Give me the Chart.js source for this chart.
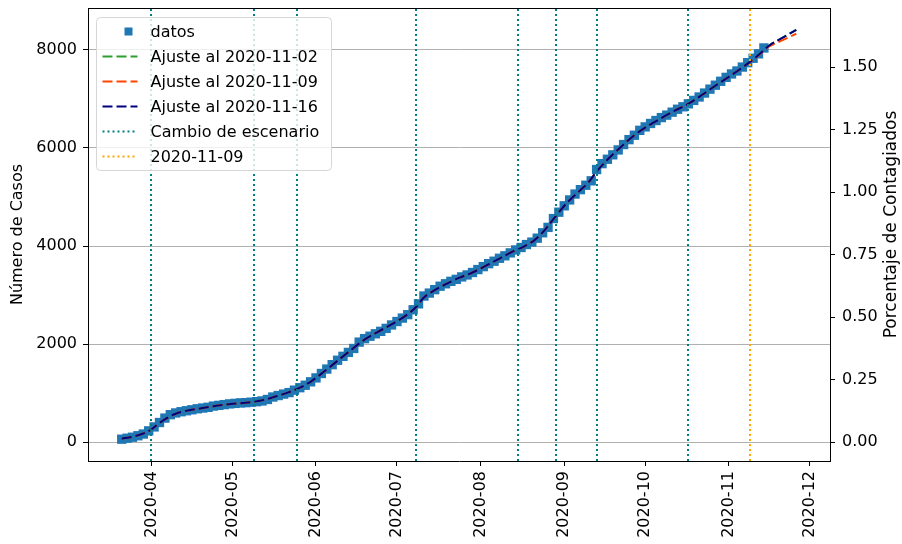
<!DOCTYPE html>
<html>
<head>
<meta charset="utf-8">
<script src="https://cdn.jsdelivr.net/npm/chart.js@4.4.0/dist/chart.umd.min.js"></script>
<style>
  html, body { margin: 0; padding: 0; background: #fff; }
  #wrap { width: 902px; height: 544px; }
</style>
</head>
<body>
<div id="wrap"><canvas id="grafico" width="902" height="544"></canvas></div>
<script>
// datos diarios (uno de cada dos dias), desde inicioDatos
const inicioDatos = '2020-03-21';
const pasoDatos = 2;
const casos = [
  60, 80, 100, 130, 165, 230, 310, 400, 490, 560,
  595, 620, 640, 660, 680, 695, 710, 735, 750, 765,
  780, 790, 800, 805, 815, 825, 840, 870, 920, 950,
  980, 1010, 1060, 1110, 1160, 1230, 1310, 1400, 1490, 1580,
  1670, 1750, 1830, 1910, 2040, 2110, 2160, 2210, 2260, 2320,
  2390, 2460, 2530, 2600, 2700, 2820, 2980, 3040, 3110, 3180,
  3230, 3280, 3320, 3370, 3410, 3460, 3520, 3580, 3640, 3690,
  3750, 3800, 3860, 3920, 3970, 4030, 4080, 4160, 4270, 4380,
  4560, 4690, 4820, 4940, 5060, 5150, 5240, 5330, 5560, 5680,
  5770, 5860, 5960, 6070, 6170, 6260, 6360, 6430, 6500, 6560,
  6620, 6670, 6730, 6790, 6840, 6900, 6970, 7040, 7120, 7200,
  7280, 7360, 7440, 7510, 7570, 7650, 7740, 7830, 7920, 8040
];

// curvas de ajuste
const fechasAjuste = [
  '2020-03-21', '2020-03-25', '2020-03-29', '2020-04-01', '2020-04-04', '2020-04-07', '2020-04-10',
  '2020-04-15', '2020-04-20', '2020-04-25', '2020-04-30', '2020-05-05', '2020-05-09', '2020-05-13',
  '2020-05-17', '2020-05-21', '2020-05-26', '2020-05-30', '2020-06-04', '2020-06-09', '2020-06-14',
  '2020-06-19', '2020-06-24', '2020-06-29', '2020-07-04', '2020-07-08', '2020-07-11', '2020-07-15',
  '2020-07-19', '2020-07-24', '2020-07-29', '2020-08-03', '2020-08-08', '2020-08-13', '2020-08-17',
  '2020-08-21', '2020-08-25', '2020-08-29', '2020-09-02', '2020-09-07', '2020-09-10', '2020-09-13',
  '2020-09-17', '2020-09-22', '2020-09-27', '2020-10-02', '2020-10-07', '2020-10-12', '2020-10-17',
  '2020-10-22', '2020-10-27', '2020-11-01', '2020-11-06', '2020-11-11', '2020-11-16', '2020-11-21',
  '2020-11-26'
];
const ajuste1102 = [
  70, 110, 175, 260, 390, 500, 580, 650, 695, 740, 775, 800, 825, 865, 930, 1000, 1110, 1230, 1440,
  1660, 1880, 2090, 2250, 2400, 2570, 2750, 2950, 3100, 3220, 3350, 3460, 3600, 3745, 3890, 3990,
  4120, 4340, 4620, 4880, 5140, 5300, 5520, 5760, 6020, 6260, 6450, 6610, 6760, 6900, 7080, 7270,
  7450, 7640, 7850, 8090, 8250, 8410
];
const ajuste1109 = [
  70, 110, 175, 260, 390, 500, 580, 650, 695, 740, 775, 800, 825, 865, 930, 1000, 1110, 1230, 1440,
  1660, 1880, 2090, 2250, 2400, 2570, 2750, 2950, 3100, 3220, 3350, 3460, 3600, 3745, 3890, 3990,
  4120, 4340, 4620, 4880, 5140, 5300, 5520, 5760, 6020, 6260, 6450, 6610, 6760, 6900, 7080, 7270,
  7450, 7640, 7840, 8070, 8200, 8330
];
const ajuste1116 = [
  70, 110, 175, 260, 390, 500, 580, 650, 695, 740, 775, 800, 825, 865, 930, 1000, 1110, 1230, 1440,
  1660, 1880, 2090, 2250, 2400, 2570, 2750, 2950, 3100, 3220, 3350, 3460, 3600, 3745, 3890, 3990,
  4120, 4340, 4620, 4880, 5140, 5300, 5520, 5760, 6020, 6260, 6450, 6610, 6760, 6900, 7080, 7270,
  7450, 7640, 7850, 8090, 8250, 8410
];

// lineas verticales
const cambiosEscenario = ['2020-04-01', '2020-05-09', '2020-05-25', '2020-07-08', '2020-08-15',
                          '2020-08-29', '2020-09-13', '2020-10-17'];
const fechaReferencia = '2020-11-09';

// ejes
const ticksMes = ['2020-04-01', '2020-05-01', '2020-06-01', '2020-07-01', '2020-08-01',
                  '2020-09-01', '2020-10-01', '2020-11-01', '2020-12-01'];
const etiquetasMes = ['2020-04', '2020-05', '2020-06', '2020-07', '2020-08',
                      '2020-09', '2020-10', '2020-11', '2020-12'];
const ticksCasos = [0, 2000, 4000, 6000, 8000];
const ticksPorcentaje = [0, 0.25, 0.5, 0.75, 1.0, 1.25, 1.5];
const poblacion = 510000;
const yMin = -385, yMax = 8855;

const azul = '#1f77b4', verde = '#2ca02c', rojo = '#ff4500', marino = '#000080';
const turquesa = '#008080', naranja = '#ffa500';

// dias desde 2020-01-01
const dia = s => (Date.UTC(+s.slice(0, 4), +s.slice(5, 7) - 1, +s.slice(8, 10)) - Date.UTC(2020, 0, 1)) / 864e5;

const d0 = dia(inicioDatos);
const puntosDatos = casos.map((v, i) => ({x: d0 + pasoDatos * i, y: v}));
const diasAjuste = fechasAjuste.map(dia);
const serie = arr => arr.map((v, i) => ({x: diasAjuste[i], y: v}));

const xIni = d0, xFin = diasAjuste[diasAjuste.length - 1];
const margen = 0.05 * (xFin - xIni);

Chart.defaults.font.family = "'DejaVu Sans', sans-serif";
Chart.defaults.font.size = 16;
Chart.defaults.color = '#000';

const lineasVerticales = {
  id: 'lineasVerticales',
  afterDatasetsDraw(chart) {
    const {ctx, chartArea: a, scales: {x}} = chart;
    ctx.save();
    ctx.beginPath();
    ctx.rect(a.left, a.top, a.right - a.left, a.bottom - a.top);
    ctx.clip();
    ctx.lineWidth = 2;
    ctx.setLineDash([2, 3]);
    const dibuja = (fechas, color) => {
      ctx.strokeStyle = color;
      fechas.forEach(f => {
        const px = Math.round(x.getPixelForValue(dia(f)));
        ctx.beginPath();
        ctx.moveTo(px, a.bottom);
        ctx.lineTo(px, a.top);
        ctx.stroke();
      });
    };
    dibuja(cambiosEscenario, turquesa);
    dibuja([fechaReferencia], naranja);
    ctx.restore();
  }
};

const marcoYLeyenda = {
  id: 'marcoYLeyenda',
  afterDraw(chart) {
    const {ctx, chartArea: a} = chart;
    ctx.save();
    // borde superior
    ctx.strokeStyle = '#000';
    ctx.lineWidth = 1;
    ctx.beginPath();
    ctx.moveTo(a.left, a.top + 0.5);
    ctx.lineTo(a.right, a.top + 0.5);
    ctx.stroke();

    // titulo del eje derecho (leido de abajo hacia arriba)
    ctx.save();
    ctx.translate(chart.width - 10, (a.top + a.bottom) / 2 - 10);
    ctx.rotate(-Math.PI / 2);
    ctx.font = "17px 'DejaVu Sans'";
    ctx.fillStyle = '#000';
    ctx.textAlign = 'center';
    ctx.textBaseline = 'middle';
    ctx.fillText('Porcentaje de Contagiados', 0, 0);
    ctx.restore();

    // leyenda
    const ds = chart.data.datasets;
    const entradas = [
      {texto: ds[0].label, marcador: true, color: azul},
      {texto: ds[1].label, color: verde, dash: [10, 4]},
      {texto: ds[2].label, color: rojo, dash: [10, 4]},
      {texto: ds[3].label, color: marino, dash: [10, 4]},
      {texto: 'Cambio de escenario', color: turquesa, dash: [2, 3]},
      {texto: fechaReferencia, color: naranja, dash: [2, 3]}
    ];
    const bx = a.left + 8.5, by = a.top + 9.5, bw = 235, bh = 153, r = 4;
    ctx.beginPath();
    ctx.moveTo(bx + r, by);
    ctx.arcTo(bx + bw, by, bx + bw, by + bh, r);
    ctx.arcTo(bx + bw, by + bh, bx, by + bh, r);
    ctx.arcTo(bx, by + bh, bx, by, r);
    ctx.arcTo(bx, by, bx + bw, by, r);
    ctx.closePath();
    ctx.fillStyle = 'rgba(255,255,255,0.8)';
    ctx.fill();
    ctx.strokeStyle = '#d6d6d6';
    ctx.stroke();

    ctx.font = "16px 'DejaVu Sans'";
    ctx.textBaseline = 'middle';
    entradas.forEach((e, i) => {
      const y = by + 14 + 25 * i;
      if (e.marcador) {
        ctx.fillStyle = e.color;
        ctx.fillRect(bx + 28, y - 4, 8, 8);
      } else {
        ctx.strokeStyle = e.color;
        ctx.lineWidth = 2;
        ctx.setLineDash(e.dash);
        ctx.beginPath();
        ctx.moveTo(bx + 6, y);
        ctx.lineTo(bx + 41, y);
        ctx.stroke();
        ctx.setLineDash([]);
      }
      ctx.fillStyle = '#000';
      ctx.fillText(e.texto, bx + 54, y + 1);
    });
    ctx.restore();
  }
};

const ctx = document.getElementById('grafico');

new Chart(ctx, {
  type: 'line',
  data: {
    datasets: [
      {
        label: 'datos',
        data: puntosDatos,
        showLine: false,
        pointStyle: 'rect',
        pointRadius: 6.6,
        pointBackgroundColor: azul,
        pointBorderColor: azul,
        pointBorderWidth: 0,
        order: 3
      },
      {
        label: 'Ajuste al 2020-11-02',
        data: serie(ajuste1102),
        borderColor: verde,
        borderWidth: 2,
        borderDash: [10, 4],
        pointRadius: 0,
        cubicInterpolationMode: 'monotone',
        order: 2
      },
      {
        label: 'Ajuste al 2020-11-09',
        data: serie(ajuste1109),
        borderColor: rojo,
        borderWidth: 2,
        borderDash: [10, 4],
        pointRadius: 0,
        cubicInterpolationMode: 'monotone',
        order: 1
      },
      {
        label: 'Ajuste al 2020-11-16',
        data: serie(ajuste1116),
        borderColor: marino,
        borderWidth: 2,
        borderDash: [10, 4],
        pointRadius: 0,
        cubicInterpolationMode: 'monotone',
        order: 0
      }
    ]
  },
  options: {
    responsive: false,
    animation: false,
    devicePixelRatio: 1,
    layout: { padding: { top: 8, left: 0, right: 0, bottom: 0 } },
    plugins: {
      legend: { display: false },
      tooltip: { enabled: false }
    },
    scales: {
      x: {
        type: 'linear',
        min: xIni - margen,
        max: xFin + margen,
        afterBuildTicks: s => { s.ticks = ticksMes.map(f => ({value: dia(f)})); },
        afterFit: s => { s.height = 83; s.paddingLeft = 0; s.paddingRight = 0; },
        ticks: {
          autoSkip: false,
          minRotation: 90,
          maxRotation: 90,
          padding: 5,
          callback: (v, i) => etiquetasMes[i]
        },
        grid: { drawOnChartArea: false, drawTicks: true, tickLength: 5, tickColor: '#000' },
        border: { display: true, color: '#000', width: 1 }
      },
      y: {
        position: 'left',
        min: yMin,
        max: yMax,
        afterBuildTicks: s => { s.ticks = ticksCasos.map(v => ({value: v})); },
        afterFit: s => { s.width = 88; s.paddingTop = 0; s.paddingBottom = 0; },
        ticks: { padding: 6, callback: v => String(v) },
        grid: { color: '#b0b0b0', lineWidth: 1, tickLength: 5, tickColor: '#000' },
        border: { display: true, color: '#000', width: 1 },
        title: { display: true, text: 'Número de Casos', padding: { top: 8, bottom: 0 } }
      },
      y2: {
        position: 'right',
        min: yMin / poblacion * 100,
        max: yMax / poblacion * 100,
        afterBuildTicks: s => { s.ticks = ticksPorcentaje.map(v => ({value: v})); },
        afterFit: s => { s.width = 72; s.paddingTop = 0; s.paddingBottom = 0; },
        ticks: { padding: 7, callback: v => v.toFixed(2) },
        grid: { drawOnChartArea: false, drawTicks: true, tickLength: 5, tickColor: '#000' },
        border: { display: true, color: '#000', width: 1 }
      }
    }
  },
  plugins: [lineasVerticales, marcoYLeyenda]
});
</script>
</body>
</html>
